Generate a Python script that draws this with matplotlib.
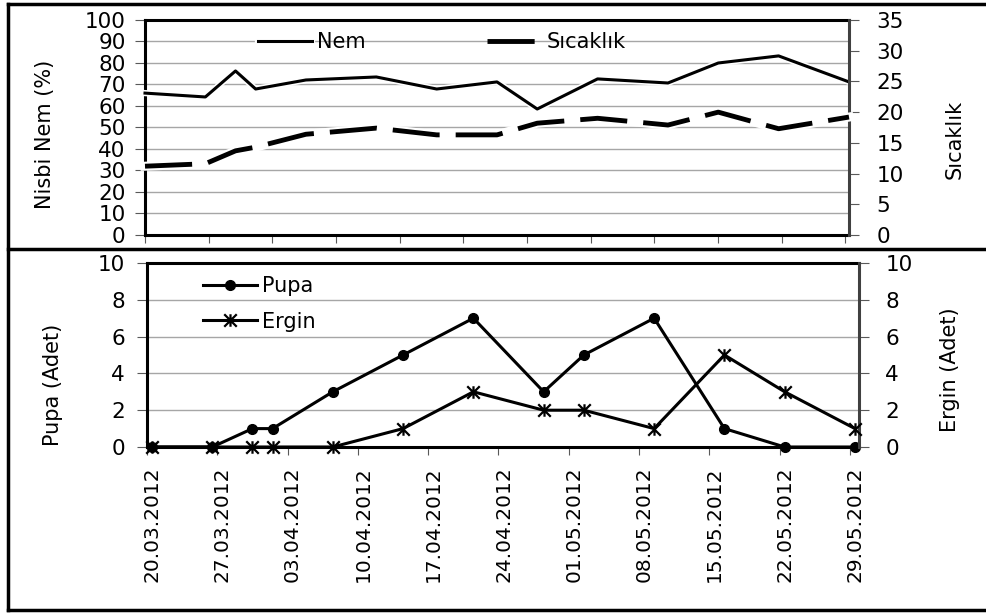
import matplotlib.pyplot as plt
import matplotlib.dates as mdates
import matplotlib.patheffects as pe
from matplotlib.lines import Line2D
from matplotlib.path import Path
import numpy as np
import pandas as pd

plt.rcParams['font.family'] = ['DejaVu Sans']

# üst panel: nisbi nem ve sıcaklık ölçümleri
iklim_tarih = ['20.03.2012', '26.03.2012', '29.03.2012', '31.03.2012', '05.04.2012',
               '12.04.2012', '18.04.2012', '24.04.2012', '28.04.2012', '04.05.2012',
               '11.05.2012', '16.05.2012', '22.05.2012', '29.05.2012']
nem = [66, 64.2, 76.3, 67.9, 72.1, 73.5, 67.9, 71.2, 58.6, 72.6, 70.7, 80, 83.3, 71.2]
sicaklik = [11.2, 11.6, 13.7, 14.3, 16.4, 17.4, 16.3, 16.3, 18.2, 19.0, 17.9, 20.0, 17.3, 19.2]

# alt panel: pupa ve ergin sayımları
sayim_tarih = ['20.03.2012', '26.03.2012', '30.03.2012', '01.04.2012', '07.04.2012',
               '14.04.2012', '21.04.2012', '28.04.2012', '02.05.2012', '09.05.2012',
               '16.05.2012', '22.05.2012', '29.05.2012']
pupa = [0, 0, 1, 1, 3, 5, 7, 3, 5, 7, 1, 0, 0]
ergin = [0, 0, 0, 0, 0, 1, 3, 2, 2, 1, 5, 3, 1]

etiketler = ['20.03.2012', '27.03.2012', '03.04.2012', '10.04.2012', '17.04.2012',
             '24.04.2012', '01.05.2012', '08.05.2012', '15.05.2012', '22.05.2012',
             '29.05.2012']


def gun(liste):
    return mdates.date2num(pd.to_datetime(liste, format='%d.%m.%Y').to_pydatetime())


x_iklim = gun(iklim_tarih)
x_sayim = gun(sayim_tarih)
x_etiket = gun(etiketler)

W, H = 986, 613
fig = plt.figure(figsize=(W / 100, H / 100), dpi=100)

tick_renk = '#595959'
grid_renk = '#a6a6a6'
FS = 15
FS_Y = 15.5

# ---------- üst grafik ----------
ax1 = fig.add_axes([145 / W, 1 - 235 / H, 704 / W, 215 / H])
ax2 = ax1.twinx()

ax1.set_ylim(0, 100)
ax1.set_yticks(range(0, 101, 10))
ax2.set_ylim(0, 35)
ax2.set_yticks(range(0, 36, 5))
ax1.set_xlim(x_iklim[0], x_iklim[-1])
ax1.set_xticks(x_iklim[0] + np.arange(12) * 6.33)
ax1.tick_params(axis='x', direction='out', length=6, color=tick_renk, labelbottom=False)
ax1.tick_params(axis='y', direction='out', length=7, color=tick_renk, labelsize=FS_Y, pad=7)
ax2.tick_params(axis='y', direction='out', length=7, color=tick_renk, labelsize=FS_Y, pad=13)
ax1.yaxis.grid(True, color=grid_renk, lw=1)
ax1.set_axisbelow(True)

l_nem, = ax1.plot(x_iklim, nem, color='black', lw=2.2, zorder=3, clip_on=False,
                  path_effects=[pe.Stroke(linewidth=4.5, foreground='white'), pe.Normal()])
ax2.plot(x_iklim, sicaklik, color='white', lw=6.5, zorder=3, clip_on=False)
l_sic, = ax2.plot(x_iklim, sicaklik, color='black', lw=3.5, ls=(0, (9.7, 3.3)),
                  zorder=4, clip_on=False)

# ---------- alt grafik ----------
ax3 = fig.add_axes([147 / W, 1 - 447 / H, 712 / W, 184 / H])
ax4 = ax3.twinx()

ax3.set_ylim(0, 10)
ax4.set_ylim(0, 10)
ax3.set_yticks(range(0, 11, 2))
ax4.set_yticks(range(0, 11, 2))
ax3.set_xlim(x_sayim[0] - 0.4, x_sayim[-1] + 0.4)
ax3.set_xticks(x_etiket - 0.5)
ax3.set_xticks(x_etiket, minor=True)
ax3.set_xticklabels([], minor=False)
ax3.set_xticklabels(etiketler, minor=True, rotation=90, fontsize=14.5)
ax3.tick_params(axis='x', which='major', direction='out', length=6, color=tick_renk)
ax3.tick_params(axis='x', which='minor', length=0, pad=14)
ax3.tick_params(axis='y', direction='out', length=7, color=tick_renk, labelsize=FS_Y, pad=9)
ax4.tick_params(axis='y', direction='out', length=7, color=tick_renk, labelsize=FS_Y, pad=12)
ax3.yaxis.grid(True, color=grid_renk, lw=1)
ax3.set_axisbelow(True)

yildiz = Path([(-1, -1), (1, 1), (-1, 1), (1, -1), (0, -1), (0, 1)],
              [Path.MOVETO, Path.LINETO, Path.MOVETO, Path.LINETO, Path.MOVETO, Path.LINETO])

l_pupa, = ax3.plot(x_sayim, pupa, color='black', lw=2.2, marker='o', ms=7,
                   zorder=3, clip_on=False)
l_ergin, = ax4.plot(x_sayim, ergin, color='black', lw=2.2, marker=yildiz, ms=9,
                    mew=1.6, mfc='none', zorder=3, clip_on=False)

for a, b in [(ax1, ax2), (ax3, ax4)]:
    for s in ['left', 'top', 'bottom']:
        a.spines[s].set_linewidth(2.2)
        a.spines[s].set_color('black')
        b.spines[s].set_visible(False)
    a.spines['right'].set_visible(False)
    b.spines['right'].set_linewidth(2.2)
    b.spines['right'].set_color('#404040')

# eksen başlıkları
fig.text(45 / W, 1 - 134 / H, 'Nisbi Nem (%)', rotation=90, ha='center', va='center', fontsize=FS)
fig.text(955 / W, 1 - 139 / H, 'Sıcaklık', rotation=90, ha='center', va='center', fontsize=FS)
fig.text(53 / W, 1 - 385 / H, 'Pupa (Adet)', rotation=90, ha='center', va='center', fontsize=FS)
fig.text(950 / W, 1 - 370 / H, 'Ergin (Adet)', rotation=90, ha='center', va='center', fontsize=FS)

# lejantlar
fig.legend([l_nem, l_sic], ['Nem', 'Sıcaklık'], loc='center left',
           bbox_to_anchor=(258 / W, 1 - 42 / H), ncol=2, frameon=False,
           handlelength=2.6, handletextpad=0.25, columnspacing=5.8,
           borderpad=0, borderaxespad=0, fontsize=FS)
fig.legend([l_pupa, l_ergin], ['Pupa', 'Ergin'], loc='upper left',
           bbox_to_anchor=(203 / W, 1 - 276 / H), frameon=False, numpoints=1,
           handlelength=2.6, handletextpad=0.25, labelspacing=0.75,
           borderpad=0, borderaxespad=0, fontsize=FS)

# dış çerçeve
for xs, ys in [((8, 8), (4, 610)), ((8, W), (4, 4)), ((8, W), (249, 249)), ((8, W), (610, 610))]:
    fig.add_artist(Line2D([x / W for x in xs], [1 - y / H for y in ys], color='black', lw=2.5))

fig.savefig('out.png', dpi=100)
